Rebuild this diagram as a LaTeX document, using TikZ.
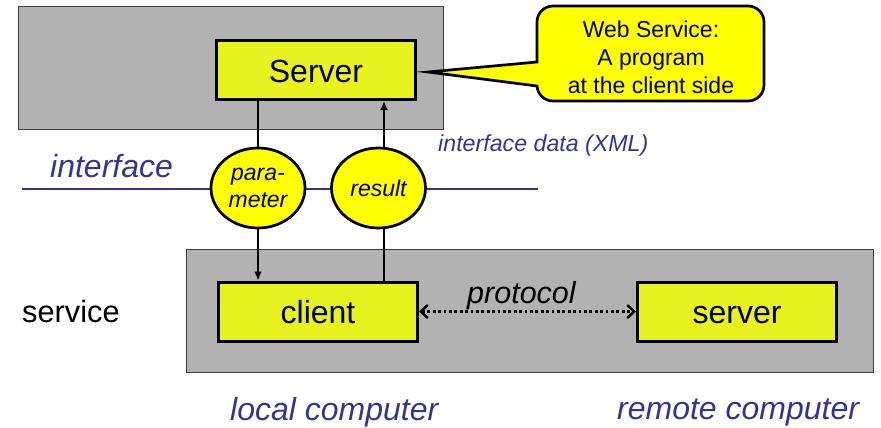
\documentclass[tikz,border=0pt]{standalone}
\usepackage{fontspec}
\setmainfont{Liberation Sans}
\usetikzlibrary{shapes.geometric,arrows.meta}
\definecolor{graybg}{RGB}{178,178,178}
\definecolor{boxyel}{RGB}{232,242,30}
\definecolor{elyel}{RGB}{255,255,0}
\definecolor{ifblue}{RGB}{51,51,153}
\tikzset{
  graybox/.style={draw={rgb,255:red,60;green,60;blue,60}, line width=1pt, fill=graybg, inner sep=0pt},
  yelbox/.style={draw=black, line width=3pt, fill=boxyel, minimum width=199pt, minimum height=59pt, inner sep=0pt, text height=24pt, text depth=0pt, font=\fontsize{32}{36}\selectfont},
  ell/.style={ellipse, draw=black, line width=2.7pt, fill=elyel, minimum width=94pt, minimum height=80pt, inner sep=0pt, align=center, font=\fontsize{23}{27}\selectfont\itshape},
  conn/.style={line width=2.6pt, draw=black},
  arr/.style={conn, -{Latex[length=9pt,width=8pt]}},
  bigtxt/.style={font=\fontsize{32}{36}\selectfont, inner sep=0pt},
  bluetxt/.style={bigtxt, text=ifblue, font=\fontsize{32}{36}\selectfont\itshape},
}
\begin{document}
\begin{tikzpicture}[x=1pt,y=-1pt]
\useasboundingbox (0,0) rectangle (881,428);
% gray boxes
\node[graybox, minimum width=425pt, minimum height=122pt] (topbox) at (230.5,68) {};
\node[graybox, minimum width=687pt, minimum height=123pt] (botbox) at (529.5,310.5) {};
% interface line
\coordinate (ifL) at (22,189);
\coordinate (ifR) at (538,189);
\draw[ifblue, line width=2.6pt] (ifL) -- (ifR);
% yellow boxes
\node[yelbox] (Server) at (316,70) {Server};
\node[yelbox] (client) at (318,311.5) {client};
\node[yelbox] (server) at (737,311.5) {server};
% ellipses
\node[ell] (param) at (258,188) {para-\\meter};
\node[ell] (result) at (378.5,188) {result};
\coordinate (resx) at (384,0);
% connectors
\draw[conn] (Server.south -| param.north) -- (param.north);
\draw[arr] (param.south) -- (param.south |- client.north);
\draw[conn] (client.north -| resx) -- (resx |- result.south);
\draw[arr] (resx |- result.north) -- (resx |- Server.south);
% protocol
\draw[line width=2.8pt, dash pattern=on 2.8pt off 2.6pt, {Straight Barb[length=7pt,width=13pt,line width=2.4pt]}-{Straight Barb[length=7pt,width=13pt,line width=2.4pt]}] (client.east) -- (server.west);
\node[inner sep=0pt, font=\fontsize{30.5}{34}\selectfont\itshape, anchor=base west] (proto) at (467,303) {protocol};
% callout
\coordinate (tip) at (428,72);
\filldraw[line width=2.7pt, fill=elyel, draw=black, line join=miter]
  (537,62) -- (tip) -- (537,86) [rounded corners=16pt] -- (537,101) -- (764,101) -- (764,6) -- (537,6) -- (537,40) [sharp corners] -- cycle;
\node[align=center, inner sep=0pt, font=\fontsize{23}{28}\selectfont] (ws) at (651,57) {Web Service:\\A program\\at the client side};
% labels
\node[bluetxt, anchor=base west] (iface) at (50,177) {interface};
\node[inner sep=0pt, text=ifblue, font=\fontsize{23.2}{26}\selectfont\itshape, anchor=base west] (xml) at (438,151) {interface data (XML)};
\node[inner sep=0pt, font=\fontsize{30.8}{34}\selectfont, anchor=base west] (svc) at (22,322) {service};
\node[bluetxt, anchor=base west] (local) at (230,420) {local computer};
\node[bluetxt, anchor=base west] (remote) at (617,419) {remote computer};
\end{tikzpicture}
\end{document}
